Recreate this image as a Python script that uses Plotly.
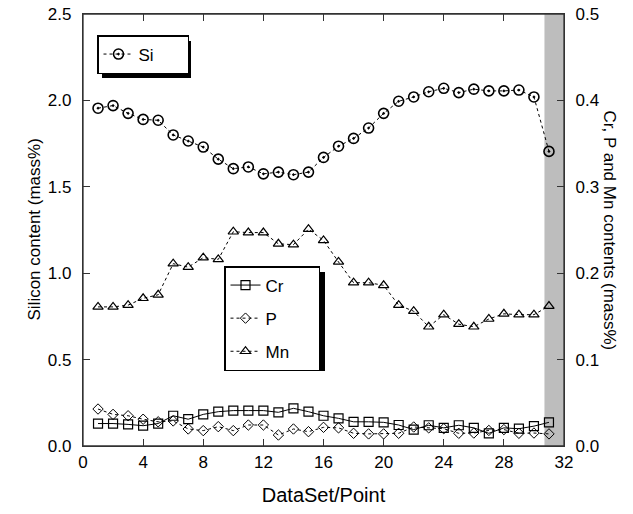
import plotly.graph_objects as go

points = list(range(1, 32))
si = [1.955, 1.97, 1.925, 1.89, 1.885, 1.80, 1.765, 1.73, 1.66, 1.605, 1.615,
      1.575, 1.585, 1.57, 1.585, 1.67, 1.735, 1.78, 1.84, 1.925, 1.995, 2.02,
      2.05, 2.07, 2.045, 2.065, 2.055, 2.055, 2.06, 2.02, 1.705]
cr = [0.026, 0.026, 0.025, 0.0235, 0.026, 0.035, 0.031, 0.0366, 0.0397, 0.041,
      0.041, 0.041, 0.039, 0.0436, 0.0397, 0.035, 0.032, 0.028, 0.028, 0.0274,
      0.0243, 0.019, 0.024, 0.021, 0.024, 0.021, 0.0147, 0.021, 0.020, 0.023, 0.0274]
p = [0.0428, 0.0366, 0.035, 0.031, 0.028, 0.029, 0.0197, 0.0178, 0.0224, 0.0178,
     0.0243, 0.0243, 0.0127, 0.0197, 0.0166, 0.0216, 0.021, 0.0147, 0.014, 0.014,
     0.0147, 0.022, 0.021, 0.020, 0.0147, 0.015, 0.018, 0.019, 0.0147, 0.015, 0.014]
mn = [0.161, 0.161, 0.163, 0.171, 0.175, 0.211, 0.207, 0.218, 0.216, 0.248, 0.247,
      0.247, 0.234, 0.233, 0.251, 0.238, 0.213, 0.189, 0.189, 0.186, 0.163, 0.156,
      0.138, 0.152, 0.141, 0.138, 0.147, 0.153, 0.152, 0.152, 0.162]
band = [30.7, 32]
x_ticks = [0, 4, 8, 12, 16, 20, 24, 28, 32]

FONT = "Liberation Sans, Arial, sans-serif"
OFF = 0  # body margin removed below
W, H = 633, 514
ML, MT = 83, 14
PW, PH = 481, 432
MR, MB = W - ML - PW, H - MT - PH
PAD = "\u00a0" * 5

fig = go.Figure()
fig.add_trace(go.Scatter(x=points, y=si, name="Si" + PAD + "\u00a0", mode="lines+markers",
                         line=dict(color="black", width=1, dash="dot"),
                         marker=dict(symbol="circle-open-dot", size=10, color="black",
                                     line=dict(width=1.6, color="black")),
                         legend="legend"))
fig.add_trace(go.Scatter(x=points, y=cr, name="Cr" + PAD, mode="lines+markers", yaxis="y2",
                         line=dict(color="black", width=1),
                         marker=dict(symbol="square-open", size=9, color="black",
                                     line=dict(width=1.2, color="black")),
                         legend="legend2", legendgroup="cr"))
fig.add_trace(go.Scatter(x=points, y=p, name="P" + PAD, mode="lines+markers", yaxis="y2",
                         line=dict(color="black", width=1, dash="dot"),
                         marker=dict(symbol="diamond-open", size=8, color="black",
                                     line=dict(width=1, color="black")),
                         legend="legend2", legendgroup="p"))
fig.add_trace(go.Scatter(x=points, y=mn, name="Mn" + PAD, mode="lines+markers", yaxis="y2",
                         line=dict(color="black", width=1, dash="dot"),
                         marker=dict(symbol="triangle-up-open", size=9, color="black",
                                     line=dict(width=1.2, color="black")),
                         legend="legend2", legendgroup="mn"))

def px_x(v):
    return (v - OFF - ML) / PW

def px_y(v):
    return (MT + PH - (v - OFF)) / PH

shapes = [
    dict(type="rect", xref="x", yref="paper", x0=band[0], x1=band[1], y0=0, y1=1,
         fillcolor="#bdbdbd", line=dict(width=0), layer="below"),
    dict(type="rect", xref="paper", yref="paper", x0=0, x1=1, y0=0, y1=1,
         line=dict(color="#333", width=1.3), fillcolor="rgba(0,0,0,0)", layer="above"),
    dict(type="rect", xref="paper", yref="paper", x0=px_x(102), x1=px_x(191),
         y0=px_y(78), y1=px_y(41), fillcolor="black", line=dict(width=0), layer="above"),
    dict(type="rect", xref="paper", yref="paper", x0=px_x(229), x1=px_x(325),
         y0=px_y(371), y1=px_y(272), fillcolor="black", line=dict(width=0), layer="above"),
]

axis_common = dict(ticks="inside", ticklen=7, tickwidth=1.3, tickcolor="#333",
                   showline=True, linecolor="#333", linewidth=1.3, showgrid=False,
                   zeroline=False, automargin=False, ticklabeloverflow="allow")

fig.update_layout(
    width=W, height=H,
    margin=dict(l=ML, r=MR, t=MT, b=MB),
    paper_bgcolor="white", plot_bgcolor="white",
    font=dict(family=FONT, size=17, color="black"),
    showlegend=True,
    shapes=shapes,
    xaxis=dict(range=[0, 32], tickvals=x_ticks, mirror="ticks",
               title=dict(text="DataSet/Point", standoff=17), **axis_common),
    xaxis2=dict(range=[0, 32], tickvals=x_ticks, overlaying="x", side="top",
                anchor="y", showticklabels=False, **axis_common),
    yaxis=dict(range=[0, 2.5], dtick=0.5, tickformat=".1f", ticklabelstandoff=7,
               **axis_common),
    yaxis2=dict(range=[0, 0.5], dtick=0.1, tickformat=".1f", overlaying="y",
                side="right", ticklabelstandoff=7, **axis_common),
    legend=dict(x=px_x(97), y=px_y(35), xanchor="left", yanchor="top",
                bgcolor="white", bordercolor="black", borderwidth=1.5,
                font=dict(size=17)),
    legend2=dict(x=px_x(224), y=px_y(266), xanchor="left", yanchor="top",
                 bgcolor="white", bordercolor="black", borderwidth=1.5,
                 font=dict(size=17), tracegroupgap=8),
    annotations=[
        dict(text="Cr, P and Mn contents (mass%)", xref="paper", yref="paper",
             x=px_x(621), y=0.5, showarrow=False, textangle=90, font=dict(size=17)),
        dict(text="Silicon content (mass%)", xref="paper", yref="paper",
             x=px_x(22), y=0.5, showarrow=False, textangle=-90, font=dict(size=17)),
    ],
)

fig.write_html("out.html", config={"displayModeBar": False},
               post_script="document.body.style.margin='0';document.body.style.overflow='hidden';")
